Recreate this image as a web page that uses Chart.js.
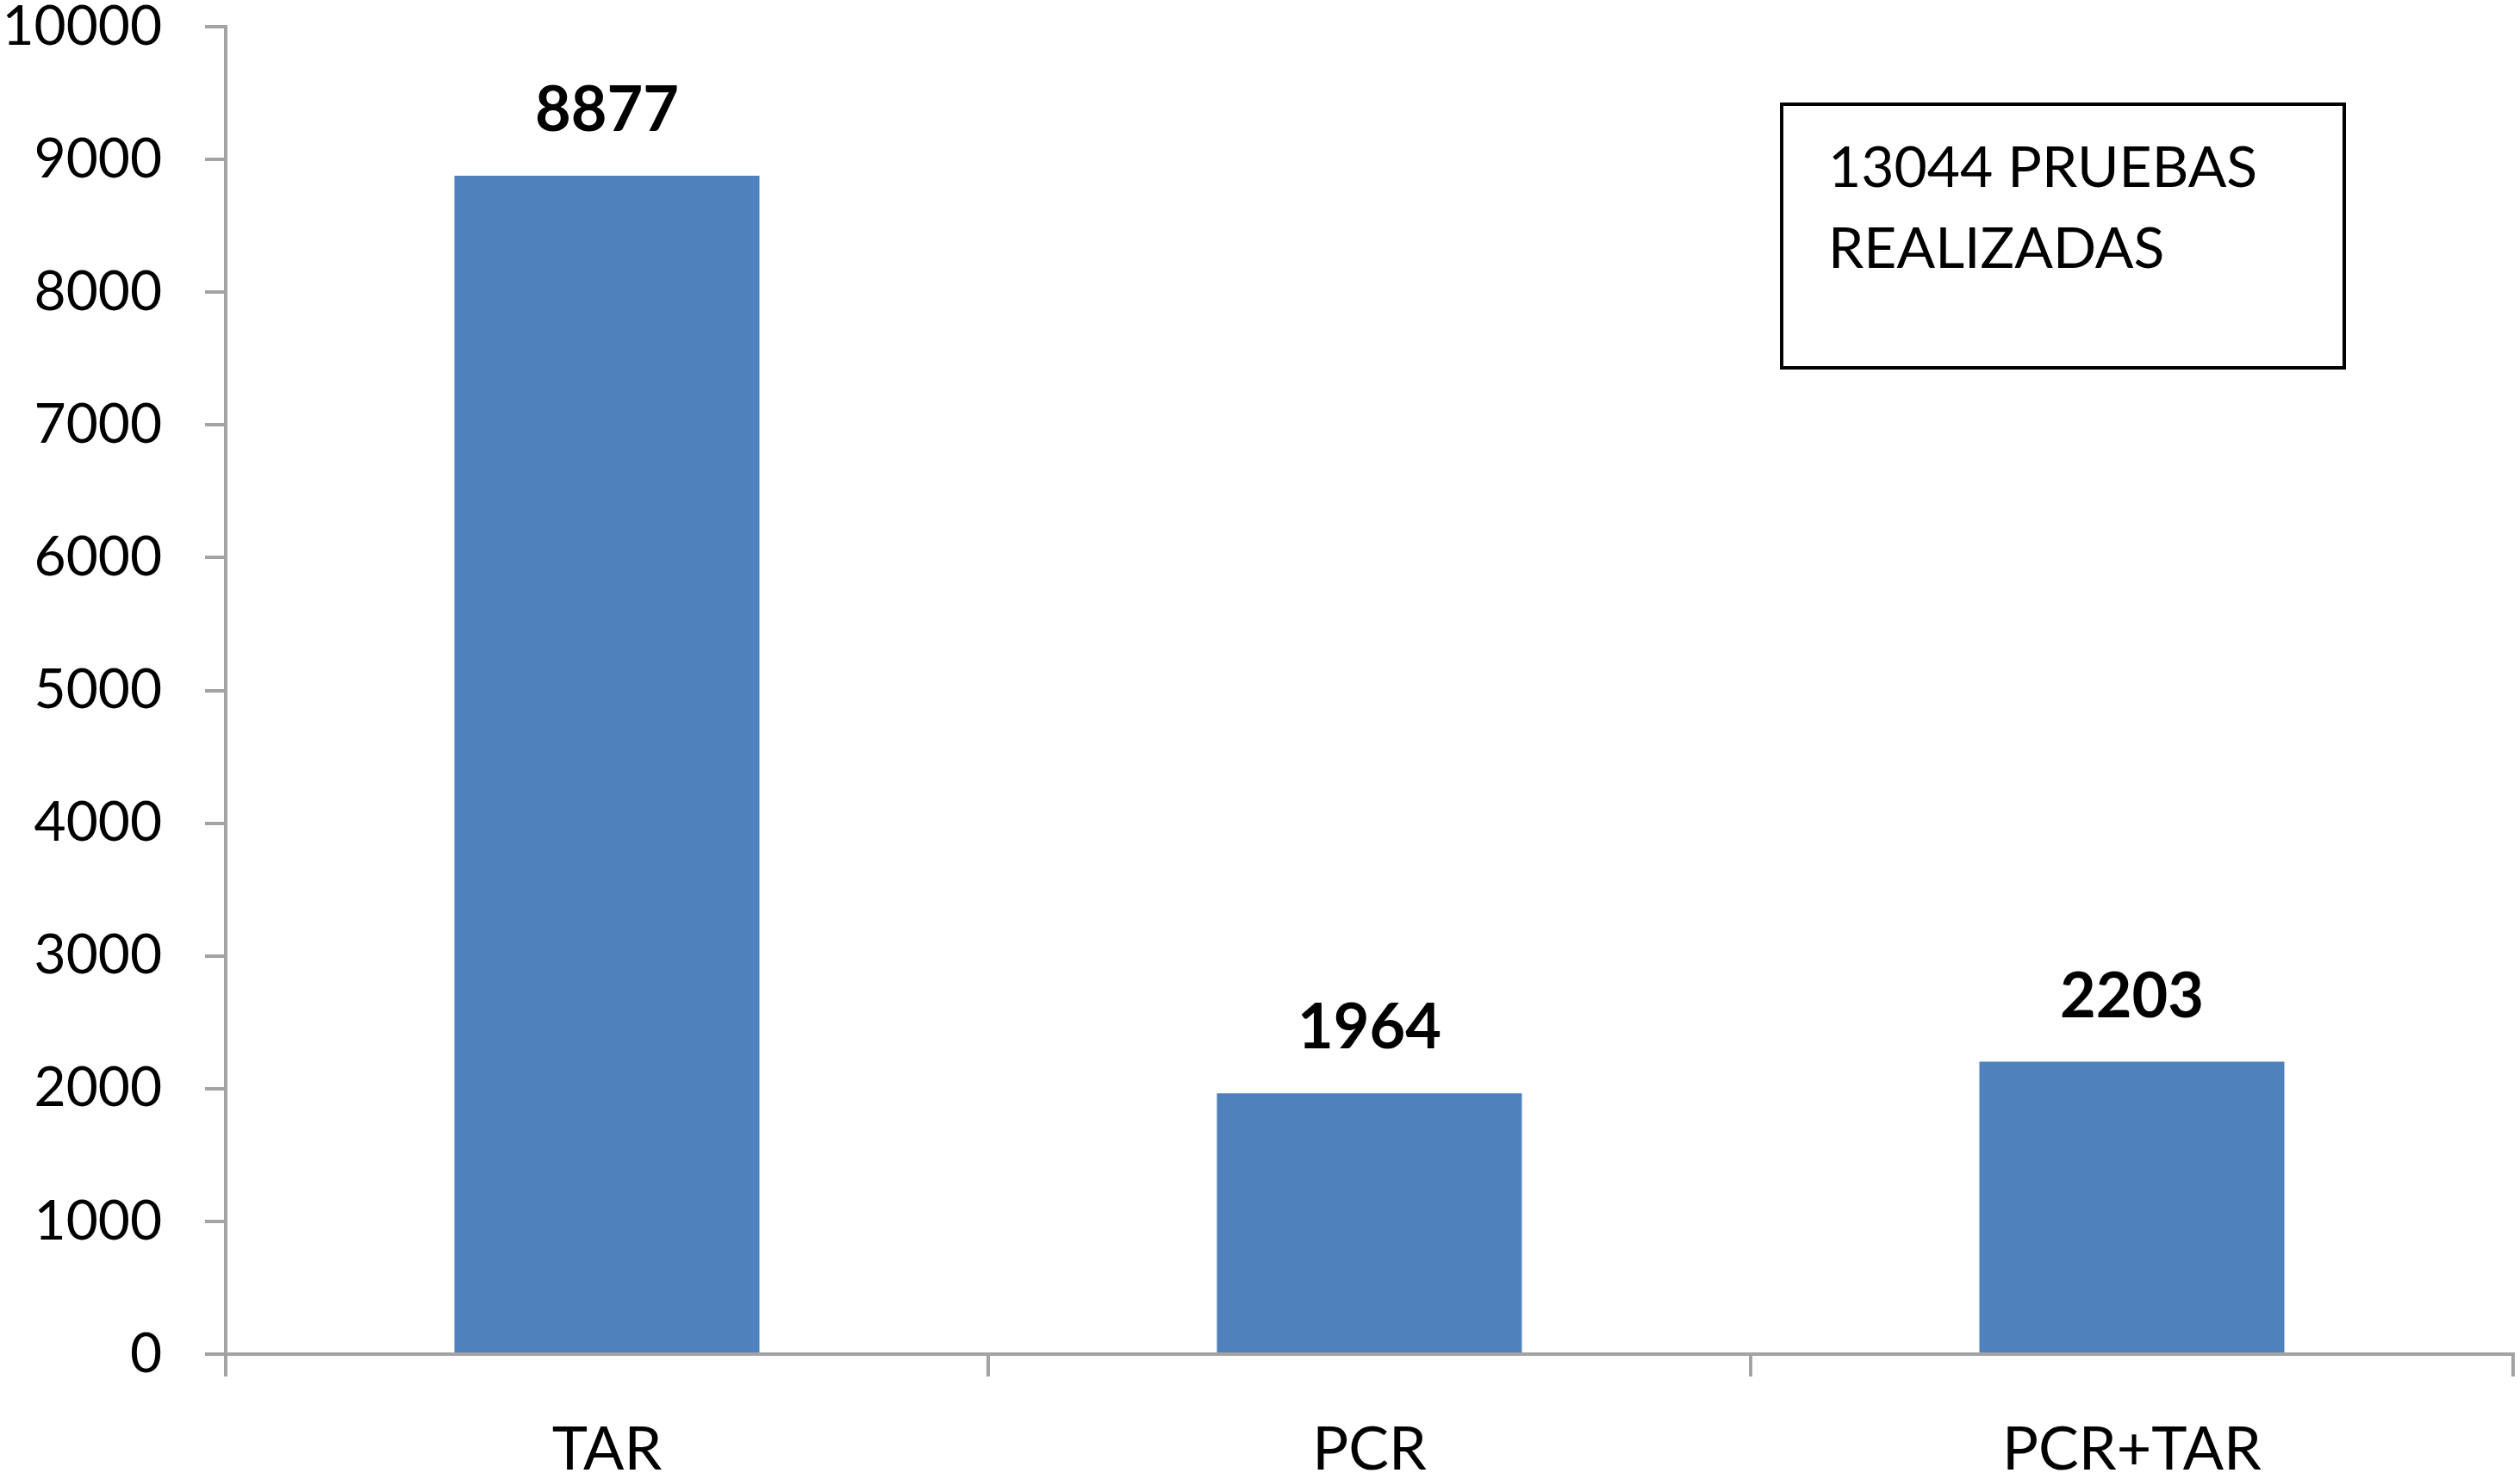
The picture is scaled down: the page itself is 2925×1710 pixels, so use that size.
<!DOCTYPE html>
<html>
<head>
<meta charset="utf-8">
<script src="https://cdn.jsdelivr.net/npm/chart.js@4/dist/chart.umd.min.js"></script>
<style>
  html, body { margin: 0; padding: 0; background: #fff; }
  #wrap { position: relative; width: 2925px; height: 1710px; }
  #note {
    position: absolute; left: 2066px; top: 119px; width: 657px; height: 310px;
    box-sizing: border-box; border: 4px solid #000; background: #fff;
    font-family: Lato, 'Liberation Sans', sans-serif; font-size: 66px; line-height: 94px;
    padding: 22px 0 0 52px; color: #000;
  }
</style>
</head>
<body>
<div id="wrap">
  <canvas id="chart"></canvas>
  <div id="note">13044 PRUEBAS<br>REALIZADAS</div>
</div>
<script>
const categories = ['TAR', 'PCR', 'PCR+TAR'];
const pruebas = [8877, 1964, 2203];
const yTicks = [0, 1000, 2000, 3000, 4000, 5000, 6000, 7000, 8000, 9000, 10000];

const axisGrey = '#a3a3a3';

// value labels above each bar
const barLabels = {
  id: 'barLabels',
  afterDatasetsDraw(chart) {
    const ctx = chart.ctx;
    const meta = chart.getDatasetMeta(0);
    ctx.save();
    ctx.font = 'bold 72px Lato, "Liberation Sans", sans-serif';
    ctx.fillStyle = '#000';
    ctx.textAlign = 'center';
    ctx.textBaseline = 'alphabetic';
    meta.data.forEach((bar, i) => {
      ctx.fillText(String(pruebas[i]), bar.x, bar.y - 52);
    });
    ctx.restore();
  }
};

new Chart(document.getElementById('chart'), {
  type: 'bar',
  data: {
    labels: categories,
    datasets: [{
      data: pruebas,
      backgroundColor: '#4f81bd',
      borderWidth: 0,
      categoryPercentage: 1,
      barPercentage: 0.4,
    }],
  },
  options: {
    responsive: true,
    maintainAspectRatio: false,
    animation: false,
    layout: { padding: { top: 0, right: 8, left: 0, bottom: 0 } },
    plugins: { legend: { display: false }, tooltip: { enabled: false } },
    scales: {
      x: {
        afterFit: (scale) => { scale.height = 138; },
        grid: { display: true, drawOnChartArea: false, drawTicks: true, tickLength: 26, color: axisGrey, lineWidth: 4, offset: true },
        border: { display: true, color: axisGrey, width: 4 },
        ticks: { color: '#000', font: { family: 'Lato, "Liberation Sans", sans-serif', size: 70, lineHeight: 1 }, padding: 50 },
      },
      y: {
        min: 0,
        max: 10000,
        afterFit: (scale) => { scale.width = 262; scale.paddingTop = 31; scale.paddingBottom = 0; },
        afterBuildTicks: (scale) => { scale.ticks = yTicks.map(v => ({ value: v })); },
        grid: { display: true, drawOnChartArea: false, drawTicks: true, tickLength: 24, color: axisGrey, lineWidth: 4 },
        border: { display: true, color: axisGrey, width: 4 },
        ticks: {
          color: '#000', padding: 50,
          font: { family: 'Lato, "Liberation Sans", sans-serif', size: 64, lineHeight: 0.9 },
          callback: (v) => String(v),
        },
      },
    },
  },
  plugins: [barLabels],
});
</script>
</body>
</html>
